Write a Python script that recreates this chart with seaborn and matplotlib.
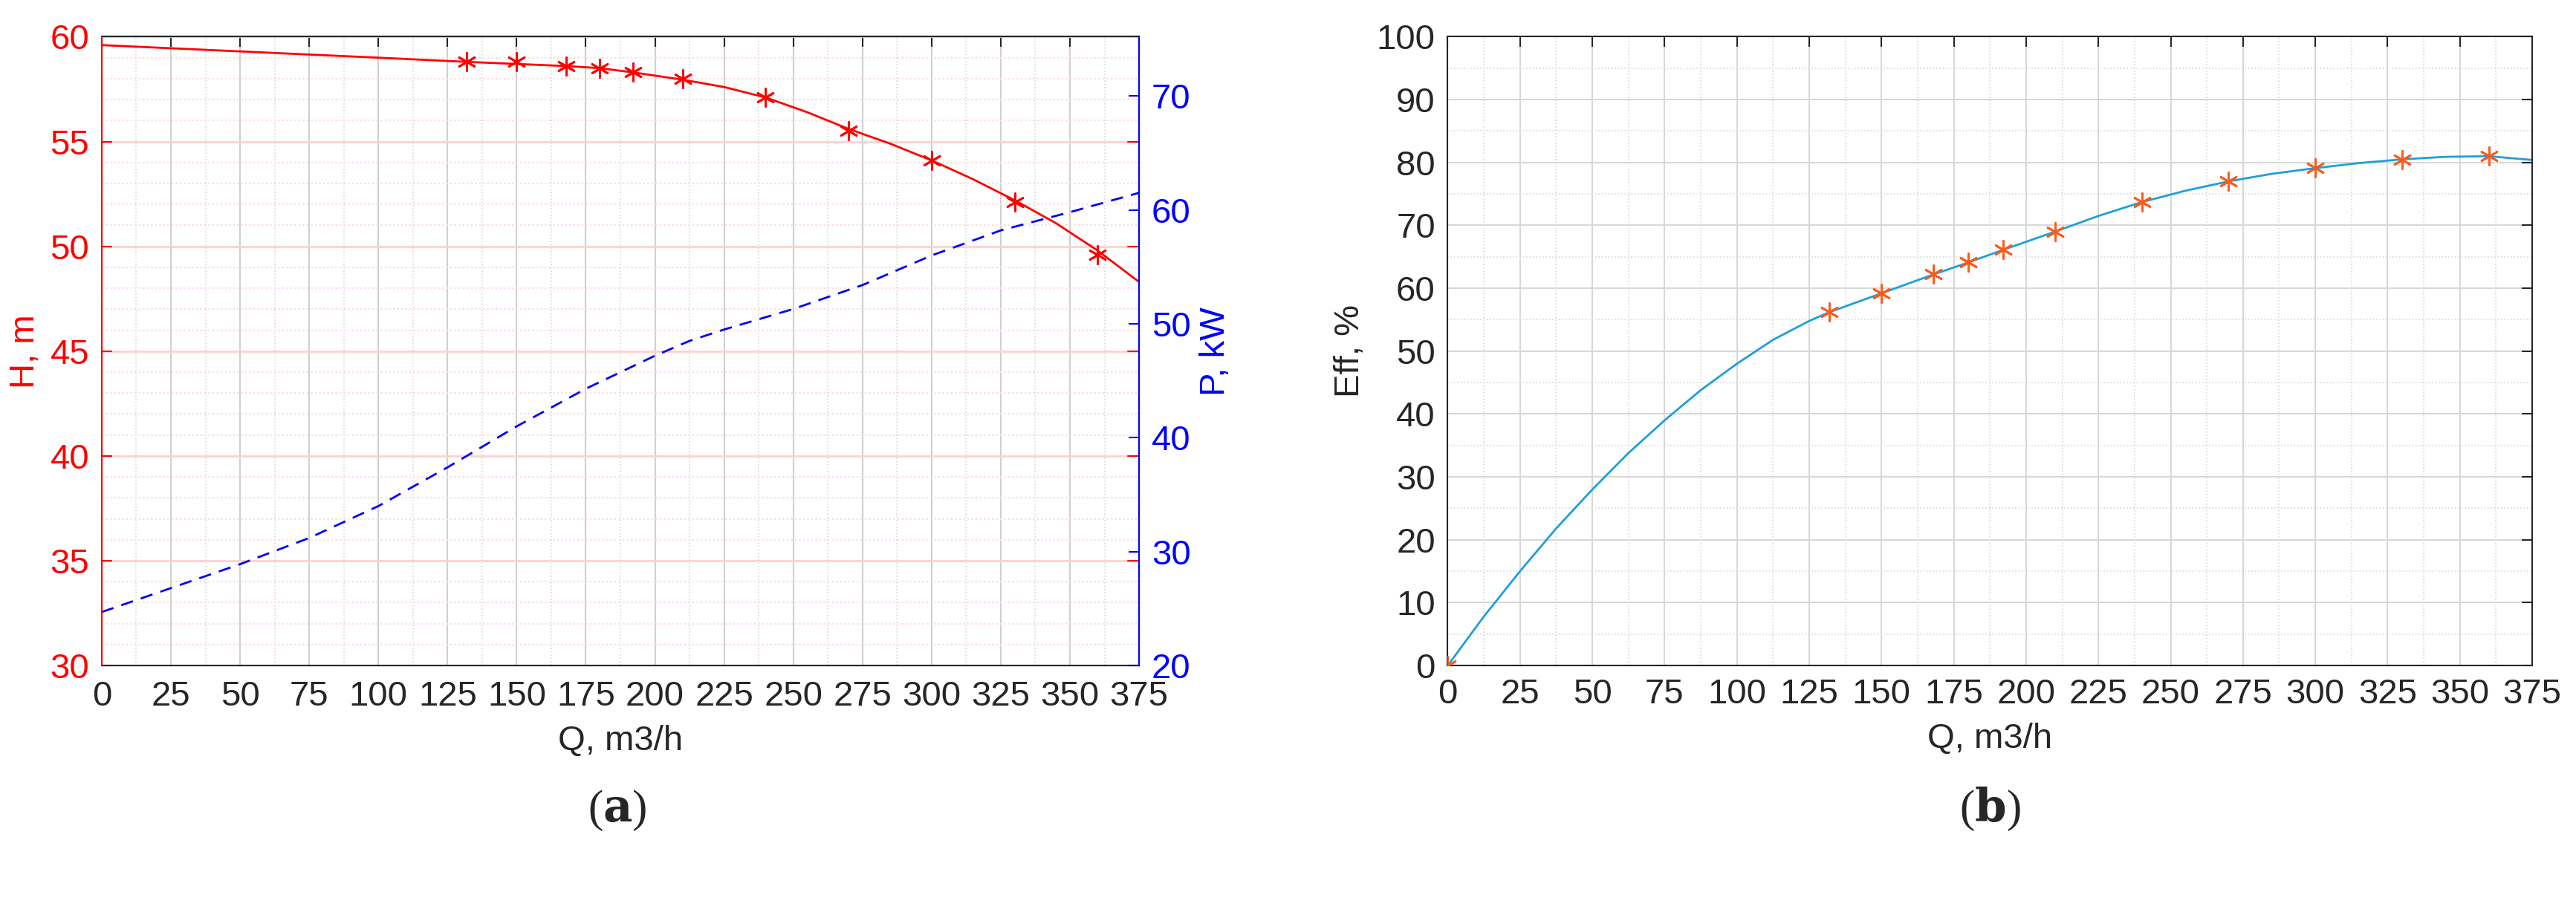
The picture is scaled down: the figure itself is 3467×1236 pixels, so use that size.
import matplotlib
matplotlib.use("Agg")
import matplotlib.pyplot as plt
import seaborn as sns
from matplotlib.ticker import MultipleLocator

sns.set_style("white")
plt.rcParams['font.family'] = ['Liberation Sans', 'DejaVu Sans']

# Head curve
q_h_curve = [0, 50, 100, 132, 150, 168, 180, 192, 210, 225, 240, 255, 270, 285, 300, 315, 330, 345, 360, 375]
h_curve = [59.6, 59.3, 59.0, 58.8, 58.7, 58.6, 58.5, 58.3, 57.95, 57.6, 57.1, 56.4, 55.6, 54.9, 54.1, 53.2, 52.2, 51.1, 49.8, 48.3]
q_pts = [132, 150, 168, 180, 192, 210, 240, 270, 300, 330, 360]
h_pts = [58.8, 58.8, 58.6, 58.5, 58.3, 58.0, 57.1, 55.5, 54.1, 52.1, 49.6]
# Power curve
q_p = [0, 25, 50, 75, 100, 125, 150, 175, 200, 212.5, 225, 250, 275, 300, 325, 350, 375]
p_curve = [24.7, 26.8, 28.9, 31.2, 34.0, 37.4, 41.0, 44.3, 47.2, 48.5, 49.5, 51.3, 53.4, 56.0, 58.2, 59.8, 61.5]
# Efficiency
q_e = [0, 12.5, 25, 37.5, 50, 62.5, 75, 87.5, 100, 112.5, 125, 132, 150, 168, 180, 192, 210, 225, 240, 255, 270, 285, 300, 315, 330, 345, 360, 375]
e_curve = [0, 7.8, 15, 21.8, 28, 33.8, 39, 43.8, 48, 51.8, 54.8, 56.2, 59.2, 62.2, 64.1, 66.1, 69, 71.5, 73.7, 75.5, 77, 78.2, 79.1, 79.9, 80.5, 80.9, 81, 80.4]
q_e_pts = [0, 132, 150, 168, 180, 192, 210, 240, 270, 300, 330, 360]
e_pts = [0, 56.2, 59.2, 62.2, 64.1, 66.1, 69, 73.7, 77, 79.1, 80.5, 81]
xticks = list(range(0, 376, 25))

fig = plt.figure(figsize=(34.67, 12.36), dpi=100)
ax1 = fig.add_axes([0.0395, 0.275, 0.4027, 0.685])
ax2 = fig.add_axes([0.562, 0.275, 0.421, 0.685])
fs = 34
red = '#ff0000'
blue = '#0000ff'
dark = '#262626'

# ---- panel a
ax1.set_xlim(0, 375); ax1.set_ylim(30, 60)
ax1.set_xticks(xticks)
ax1.xaxis.set_minor_locator(MultipleLocator(12.5))
ax1.set_yticks(range(30, 61, 5))
ax1.yaxis.set_minor_locator(MultipleLocator(1))
ax1.grid(True, which='major', axis='x', color='#d0d0d0', lw=1.5)
ax1.grid(True, which='minor', axis='x', color='#d8d8d8', lw=1.2, ls=':')
ax1.grid(True, which='major', axis='y', color='#ffd0d0', lw=2)
ax1.grid(True, which='minor', axis='y', color='#ffd8d8', lw=1.5, ls=':')
sns.lineplot(x=q_h_curve, y=h_curve, ax=ax1, color=red, lw=2)
sns.scatterplot(x=q_pts, y=h_pts, ax=ax1, color=red, marker=(6, 2, 0), s=300, linewidth=2, edgecolor=red)
ax1.tick_params(axis='y', which='both', colors=red, labelsize=fs, direction='in', length=10, width=1.5, right=False, pad=12)
ax1.tick_params(axis='y', which='minor', length=0)
ax1.tick_params(axis='x', which='major', labelsize=fs, direction='in', length=10, width=1.5, top=True, pad=14, colors=dark)
ax1.tick_params(axis='x', which='minor', length=0)
ax1.set_ylabel('H, m', color=red, fontsize=fs, labelpad=8)
ax1.set_xlabel('Q, m3/h', fontsize=fs, color=dark, labelpad=12)
ax1.spines['left'].set_color(red)
for s in ax1.spines.values():
    s.set_linewidth(1.5)

ax1b = ax1.twinx()
ax1b.set_ylim(20, 75.2)
ax1b.set_yticks(range(20, 71, 10))
sns.lineplot(x=q_p, y=p_curve, ax=ax1b, color=blue, lw=2)
ax1b.lines[-1].set_dashes([6, 4])
ax1b.tick_params(axis='y', colors=blue, labelsize=fs, direction='in', length=10, width=1.5, pad=12)
ax1b.set_ylabel('P, kW', color=blue, fontsize=fs, labelpad=8)
ax1b.spines['right'].set_color(blue)
ax1b.spines['right'].set_linewidth(1.5)
ax1b.spines['left'].set_color(red)
ax1b.spines['left'].set_linewidth(1.5)
for y in range(30, 61, 5):
    ax1.plot([375 - 4, 375], [y, y], color=red, lw=1.5, clip_on=False)

# ---- panel b
ax2.set_xlim(0, 375); ax2.set_ylim(0, 100)
ax2.set_xticks(xticks)
ax2.set_yticks(range(0, 101, 10))
ax2.xaxis.set_minor_locator(MultipleLocator(12.5))
ax2.yaxis.set_minor_locator(MultipleLocator(5))
ax2.grid(True, which='major', color='#d8d8d8', lw=1.5)
ax2.grid(True, which='minor', color='#d8d8d8', lw=1.2, ls=':')
sns.lineplot(x=q_e, y=e_curve, ax=ax2, color='#1f9fd8', lw=2)
sns.scatterplot(x=q_e_pts, y=e_pts, ax=ax2, color='#ff5a1a', marker=(6, 2, 0), s=300, linewidth=2, edgecolor='#ff5a1a', zorder=3)
ax2.tick_params(which='major', labelsize=fs, direction='in', length=10, width=1.5, top=True, right=True, colors=dark, pad=12)
ax2.tick_params(which='minor', length=0)
ax2.set_ylabel('Eff, %', fontsize=fs, color=dark, labelpad=10)
ax2.set_xlabel('Q, m3/h', fontsize=fs, color=dark, labelpad=12)
for s in ax2.spines.values():
    s.set_linewidth(1.5); s.set_color(dark)

for xc, lab in [(0.2395, 'a'), (0.7725, 'b')]:
    fig.text(xc, 0.105, '(' + r'$\mathbf{' + lab + '}$' + ')', fontsize=44, family='Liberation Serif',
             ha='center', va='baseline', math_fontfamily='dejavuserif')
fig.savefig('out.png', dpi=100)
